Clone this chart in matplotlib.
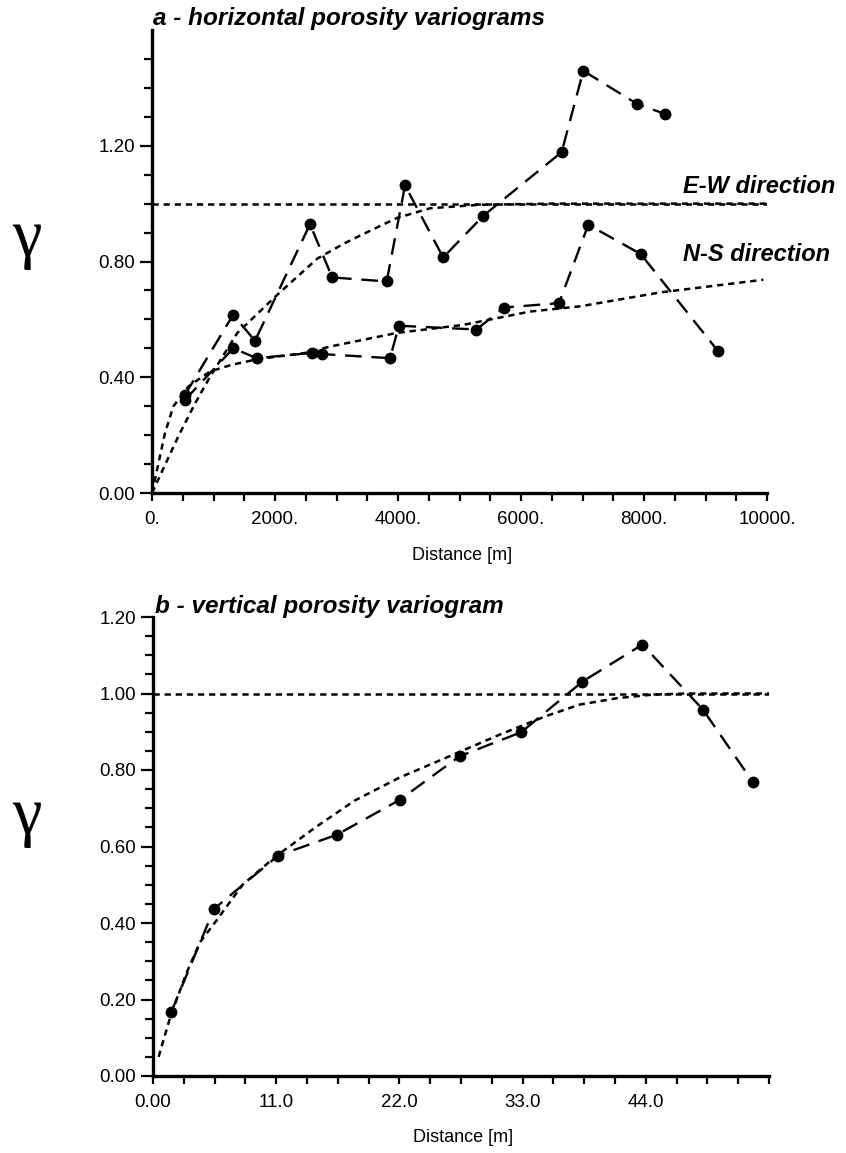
import numpy as np
import matplotlib
matplotlib.use("Agg")
import matplotlib.pyplot as plt
from matplotlib.ticker import FixedLocator, MultipleLocator

plt.rcParams["font.family"] = ["Liberation Sans", "DejaVu Sans"]
plt.rcParams["lines.scale_dashes"] = False

# ---- panel a : horizontal variograms ----
ew_dist = [537, 1320, 1675, 2569, 2930, 3816, 4114, 4735, 5387, 6661, 7013, 7891, 8341]
ew_gamma = [0.340, 0.616, 0.526, 0.929, 0.745, 0.731, 1.063, 0.814, 0.958, 1.178, 1.459, 1.344, 1.310]

ns_dist = [537, 1320, 1702, 2597, 2772, 3870, 4015, 5276, 5723, 6618, 7094, 7946, 9209]
ns_gamma = [0.322, 0.500, 0.466, 0.484, 0.480, 0.466, 0.578, 0.565, 0.641, 0.656, 0.927, 0.826, 0.489]

# fitted models
ew_model_dist = [0, 428, 704, 948, 1387, 2037, 2688, 3122, 3436, 3978, 4520, 5330, 6500, 8000, 10000]
ew_model_gamma = [0.0, 0.196, 0.311, 0.403, 0.553, 0.685, 0.810, 0.862, 0.895, 0.950, 0.984, 0.996, 1.0, 1.0, 1.0]

ns_model_dist = [0, 211, 346, 591, 943, 1295, 1729, 2488, 2894, 3978, 5062, 6146, 6959, 8260, 9940]
ns_model_gamma = [0.0, 0.207, 0.299, 0.368, 0.420, 0.443, 0.463, 0.484, 0.506, 0.553, 0.581, 0.627, 0.645, 0.693, 0.737]

sill_a = 1.0

xticks_a = [0, 2000, 4000, 6000, 8000, 10000]
xticklabels_a = ["0.", "2000.", "4000.", "6000.", "8000.", "10000."]
yticks_a = [0.0, 0.4, 0.8, 1.2]
yticklabels_a = ["0.00", "0.40", "0.80", "1.20"]

# ---- panel b : vertical variogram ----
v_dist = [1.64, 5.45, 11.16, 16.43, 22.03, 27.38, 32.89, 38.34, 43.70, 49.10, 53.57]
v_gamma = [0.168, 0.437, 0.576, 0.631, 0.722, 0.836, 0.899, 1.031, 1.128, 0.958, 0.768]

v_model_dist = [0.5, 1.6, 3.0, 4.2, 5.5, 8.0, 11.0, 14.6, 18.0, 22.0, 26.0, 31.0, 35.0, 38.1, 41.5, 44.6, 47.5, 55.0]
v_model_gamma = [0.05, 0.16, 0.27, 0.35, 0.40, 0.50, 0.575, 0.652, 0.72, 0.78, 0.83, 0.893, 0.94, 0.971, 0.988, 0.997, 1.0, 1.0]

sill_b = 1.0

xticks_b = [0, 11, 22, 33, 44]
xticklabels_b = ["0.00", "11.0", "22.0", "33.0", "44.0"]
yticks_b = [0.0, 0.2, 0.4, 0.6, 0.8, 1.0, 1.2]
yticklabels_b = ["0.00", "0.20", "0.40", "0.60", "0.80", "1.00", "1.20"]

W, H = 846, 1153
fig = plt.figure(figsize=(W / 100, H / 100), dpi=100)


def px_axes(left, top, right, bottom):
    return fig.add_axes([left / W, 1 - bottom / H, (right - left) / W, (bottom - top) / H])


data_style = dict(color="black", lw=1.7, dashes=(12, 7), marker="o", ms=7.5, zorder=3)
model_style = dict(color="black", lw=1.8, dashes=(4.5, 3.5), zorder=2)


def style_axes(ax):
    for s in ["top", "right"]:
        ax.spines[s].set_visible(False)
    for s in ["left", "bottom"]:
        ax.spines[s].set_linewidth(2.4)
    ax.tick_params(axis="both", which="both", direction="out", width=1.6, labelsize=13.5, colors="black")
    ax.tick_params(axis="y", which="major", length=9, pad=3)
    ax.tick_params(axis="y", which="minor", length=6)
    ax.tick_params(axis="x", which="major", length=6, pad=7)
    ax.tick_params(axis="x", which="minor", length=6)


# panel a
ax1 = px_axes(152, 30, 767, 493)
ax1.plot([0, 10000], [sill_a, sill_a], **model_style)
ax1.plot(ew_model_dist, ew_model_gamma, **model_style)
ax1.plot(ns_model_dist, ns_model_gamma, **model_style)
ax1.plot(ew_dist, ew_gamma, **data_style)
ax1.plot(ns_dist, ns_gamma, **data_style)
ax1.set_xlim(0, 10000)
ax1.set_ylim(0, 1.6)
ax1.xaxis.set_major_locator(FixedLocator(xticks_a))
ax1.set_xticklabels(xticklabels_a)
ax1.xaxis.set_minor_locator(MultipleLocator(500))
ax1.yaxis.set_major_locator(FixedLocator(yticks_a))
ax1.set_yticklabels(yticklabels_a)
ax1.yaxis.set_minor_locator(FixedLocator(np.arange(0, 1.55, 0.1)))
style_axes(ax1)
ax1.text(8634, 1.058, "E-W direction", fontsize=17, fontweight="bold", fontstyle="italic",
         va="center", ha="left", clip_on=False)
ax1.text(8634, 0.823, "N-S direction", fontsize=17, fontweight="bold", fontstyle="italic",
         va="center", ha="left", clip_on=False)

# panel b
ax2 = px_axes(153, 617, 769, 1076)
ax2.plot([0, 55], [sill_b, sill_b], **model_style)
ax2.plot(v_model_dist, v_model_gamma, **model_style)
ax2.plot(v_dist, v_gamma, **data_style)
ax2.set_xlim(0, 55)
ax2.set_ylim(0, 1.2)
ax2.xaxis.set_major_locator(FixedLocator(xticks_b))
ax2.set_xticklabels(xticklabels_b)
ax2.xaxis.set_minor_locator(MultipleLocator(2.75))
ax2.yaxis.set_major_locator(FixedLocator(yticks_b))
ax2.set_yticklabels(yticklabels_b)
ax2.yaxis.set_minor_locator(MultipleLocator(0.05))
style_axes(ax2)

# titles and labels
fig.text(153 / W, 1 - 18 / H, "a - horizontal porosity variograms", fontsize=17.5,
         fontweight="bold", fontstyle="italic", va="center", ha="left")
fig.text(155 / W, 1 - 607 / H, "b - vertical porosity variogram", fontsize=17.5,
         fontweight="bold", fontstyle="italic", va="center", ha="left")
fig.text(462 / W, 1 - 556 / H, "Distance [m]", fontsize=13, ha="center", va="center")
fig.text(463 / W, 1 - 1138 / H, "Distance [m]", fontsize=13, ha="center", va="center")
fig.text(27 / W, 1 - 240 / H, "γ", fontsize=48, family="Liberation Serif", ha="center", va="center")
fig.text(27 / W, 1 - 818 / H, "γ", fontsize=48, family="Liberation Serif", ha="center", va="center")

fig.savefig("out.png", dpi=100, facecolor="white")
